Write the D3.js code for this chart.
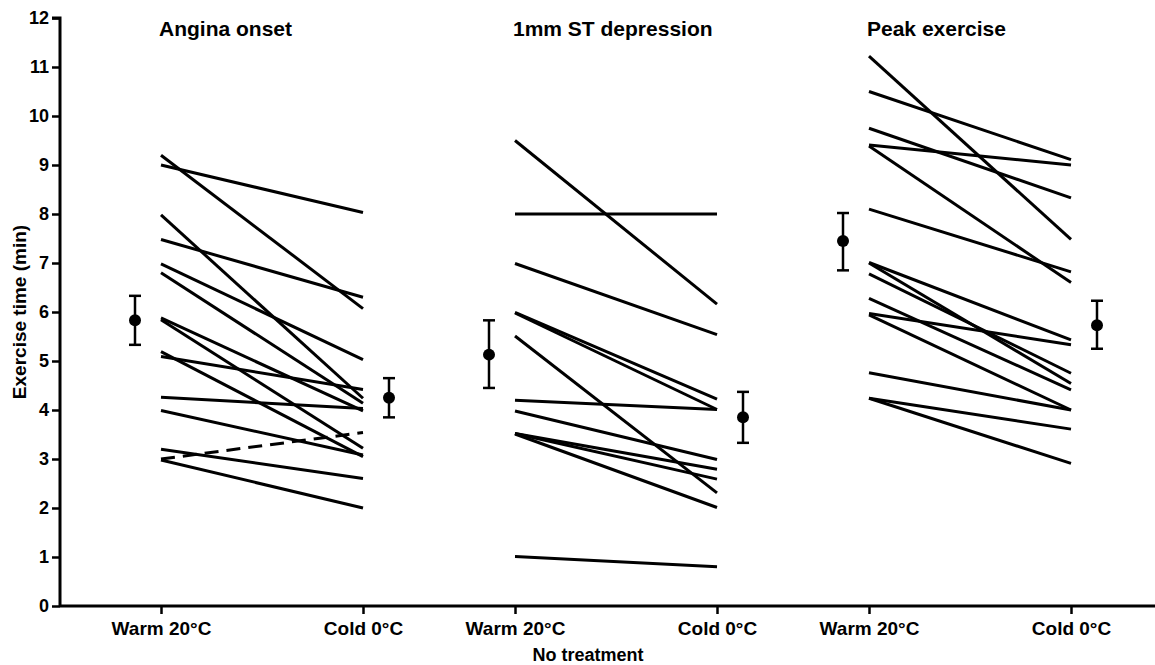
<!DOCTYPE html>
<html>
<head>
<meta charset="utf-8">
<script src="https://cdnjs.cloudflare.com/ajax/libs/d3/7.8.5/d3.min.js"></script>
<style>
  body { margin: 0; background: #fff; }
  text { font-family: "Liberation Sans", Arial, sans-serif; font-weight: bold; fill: #000; }
</style>
</head>
<body>
<div id="chart"></div>
<script>
// panels and conditions
var panels = ["Angina onset", "1mm ST depression", "Peak exercise"];
var conditions = ["Warm 20°C", "Cold 0°C"];
var yTicks = [0, 1, 2, 3, 4, 5, 6, 7, 8, 9, 10, 11, 12];

// individual patients: warm value, cold value
var anginaWarm = [9.0, 9.2, 7.98, 7.48, 6.98, 6.8, 5.88, 5.84, 5.19, 5.09, 4.26, 3.99, 3.2, 2.98];
var anginaCold = [8.03, 6.07, 4.24, 6.3, 5.03, 4.14, 3.98, 3.22, 3.05, 4.42, 4.03, 3.08, 2.6, 2.0];
// one patient improved in the cold (dashed line)
var anginaDashWarm = [3.0];
var anginaDashCold = [3.54];

var stWarm = [9.5, 8.0, 6.99, 5.99, 5.98, 5.51, 4.2, 3.98, 3.52, 3.52, 3.51, 1.01];
var stCold = [6.16, 8.0, 5.54, 4.22, 4.01, 2.31, 4.01, 2.99, 2.79, 2.59, 2.01, 0.8];

var peakWarm = [11.22, 10.5, 9.75, 9.41, 9.39, 8.1, 7.01, 7.0, 6.78, 6.28, 5.97, 5.94, 4.76, 4.24, 4.24];
var peakCold = [7.48, 9.11, 8.33, 9.0, 6.6, 6.82, 5.43, 4.54, 4.75, 4.41, 5.33, 4.0, 4.0, 3.61, 2.91];

// mean +/- SEM for each panel
var meanWarm = [5.83, 5.13, 7.45];
var warmLo = [5.33, 4.45, 6.85];
var warmHi = [6.33, 5.83, 8.02];
var meanCold = [4.25, 3.85, 5.73];
var coldLo = [3.85, 3.33, 5.25];
var coldHi = [4.65, 4.37, 6.23];

var width = 1155, height = 665;

var svg = d3.select("#chart").append("svg")
    .attr("width", width)
    .attr("height", height);

var y = d3.scaleLinear().domain([0, 12]).range([606, 18]);

var xPanel = d3.scaleBand().domain(panels).range([75, 1137]);
var xCond = d3.scalePoint().domain(conditions).range([86, 288]);

function xAt(panel, cond) { return xPanel(panel) + xCond(cond); }

// y axis
var yAxis = svg.append("g")
    .attr("transform", "translate(60,0)")
    .call(d3.axisLeft(y).tickValues(yTicks).tickSize(8).tickPadding(3).tickFormat(d3.format("d")));
yAxis.select(".domain").attr("stroke-width", 3).attr("d", "M-8,18H0V606");
yAxis.selectAll(".tick line").attr("stroke-width", 2.5);
yAxis.selectAll(".tick text").style("font-size", "18px").style("font-family", "Liberation Sans, Arial, sans-serif");

// x axis baseline
svg.append("line")
    .attr("x1", 60).attr("x2", width)
    .attr("y1", 606).attr("y2", 606)
    .attr("stroke", "#000").attr("stroke-width", 3);

panels.forEach(function (p) {
    var xa = d3.scalePoint().domain(conditions)
        .range([xAt(p, conditions[0]), xAt(p, conditions[1])]);
    var g = svg.append("g")
        .attr("transform", "translate(0,606)")
        .call(d3.axisBottom(xa).tickSize(8).tickPadding(8));
    g.select(".domain").remove();
    g.selectAll(".tick line").attr("stroke-width", 2.5);
    g.selectAll(".tick text").style("font-size", "19px").style("font-family", "Liberation Sans, Arial, sans-serif");

    svg.append("text")
        .attr("x", xAt(p, conditions[0]) - 2)
        .attr("y", 36)
        .style("font-size", "21px")
        .text(p);
});

// paired lines
var sets = [
    { panel: panels[0], warm: anginaWarm, cold: anginaCold, dash: null },
    { panel: panels[0], warm: anginaDashWarm, cold: anginaDashCold, dash: "14,8" },
    { panel: panels[1], warm: stWarm, cold: stCold, dash: null },
    { panel: panels[2], warm: peakWarm, cold: peakCold, dash: null }
];

sets.forEach(function (s) {
    svg.append("g").selectAll("line")
        .data(s.warm)
        .enter().append("line")
        .attr("x1", xAt(s.panel, conditions[0]))
        .attr("x2", xAt(s.panel, conditions[1]))
        .attr("y1", function (d) { return y(d); })
        .attr("y2", function (d, i) { return y(s.cold[i]); })
        .attr("stroke", "#000")
        .attr("stroke-width", 3)
        .attr("stroke-dasharray", s.dash);
});

// mean +/- SEM markers
function errorBar(cx, m, lo, hi) {
    var g = svg.append("g");
    g.append("line").attr("x1", cx).attr("x2", cx).attr("y1", y(lo)).attr("y2", y(hi))
        .attr("stroke", "#000").attr("stroke-width", 2.5);
    [lo, hi].forEach(function (v) {
        g.append("line").attr("x1", cx - 6).attr("x2", cx + 6).attr("y1", y(v)).attr("y2", y(v))
            .attr("stroke", "#000").attr("stroke-width", 2.5);
    });
    g.append("circle").attr("cx", cx).attr("cy", y(m)).attr("r", 6).attr("fill", "#000");
}

panels.forEach(function (p, i) {
    errorBar(xAt(p, conditions[0]) - 26, meanWarm[i], warmLo[i], warmHi[i]);
    errorBar(xAt(p, conditions[1]) + 26, meanCold[i], coldLo[i], coldHi[i]);
});

// axis titles
svg.append("text")
    .attr("transform", "translate(26,312) rotate(-90)")
    .attr("text-anchor", "middle")
    .style("font-size", "19px")
    .text("Exercise time (min)");

svg.append("text")
    .attr("x", 588)
    .attr("y", 661)
    .attr("text-anchor", "middle")
    .style("font-size", "18px")
    .text("No treatment");
</script>
</body>
</html>
